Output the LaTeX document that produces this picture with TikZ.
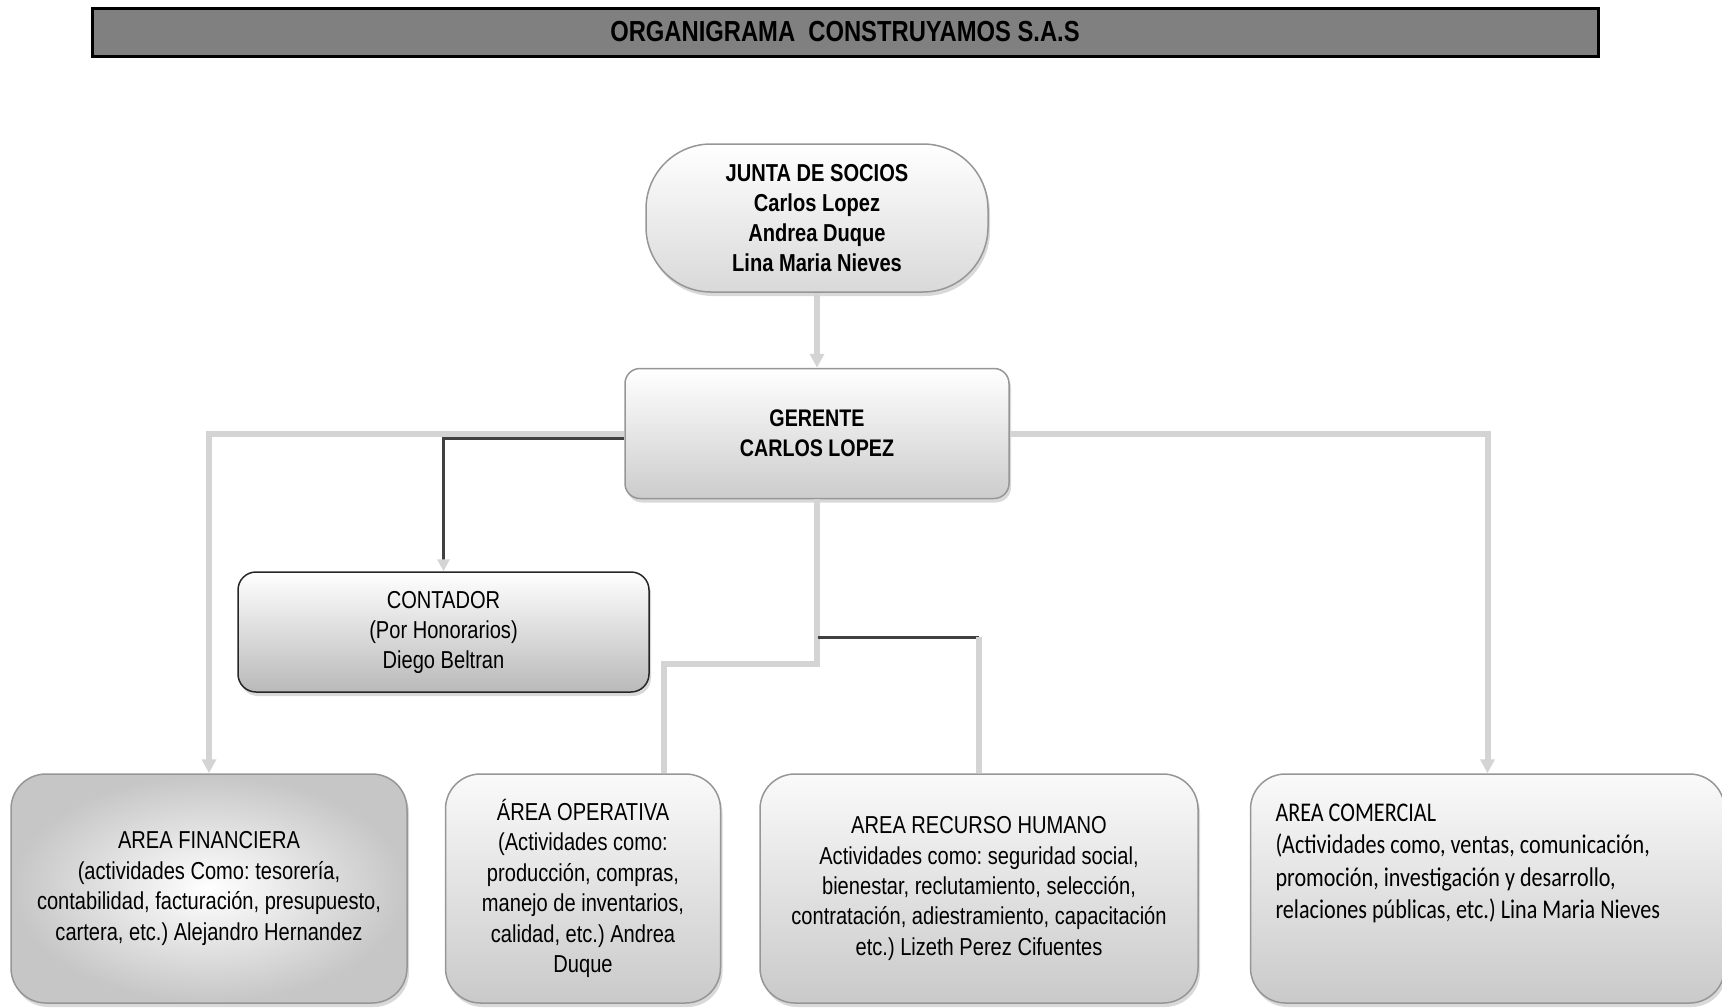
\documentclass[tikz,border=0pt]{standalone}
\usepackage{fontspec}
\setmainfont{Liberation Sans}[FakeStretch=0.82]
\newfontfamily\comfont{Carlito}[FakeStretch=0.82]
\usepackage{xcolor}
\usepackage{tikz}
\usetikzlibrary{arrows.meta,positioning,shadows}
\definecolor{link-gray}{RGB}{212,212,212}
\definecolor{box-edge}{RGB}{150,150,150}
\definecolor{title-gray}{RGB}{128,128,128}
\frenchspacing

\begin{document}
\begin{tikzpicture}[x=1pt, y=-1pt,
    banner/.style = {shape=rectangle, draw=black, line width=3pt,
        fill=title-gray, minimum width=1506pt, minimum height=48pt,
        font=\bfseries\fontsize{29}{30}\selectfont},
    board/.style = {shape=rectangle, rounded corners=65pt, draw=box-edge,
        line width=1.5pt, top color=white, bottom color=gray!30, align=center,
        minimum width=342pt, minimum height=148pt,
        font=\bfseries\fontsize{24.5}{30}\selectfont,
        drop shadow={opacity=0.3, shadow xshift=2pt, shadow yshift=-4pt}},
    head/.style = {shape=rectangle, rounded corners=15pt, draw=box-edge,
        line width=1.5pt, top color=white, bottom color=gray!40, align=center,
        minimum width=384pt, minimum height=130pt,
        font=\bfseries\fontsize{24}{30}\selectfont,
        drop shadow={opacity=0.3, shadow xshift=2pt, shadow yshift=-4pt}},
    staff/.style = {shape=rectangle, rounded corners=18pt, draw=black!85,
        line width=1.5pt, top color=white, bottom color=gray!55, align=center,
        minimum width=411pt, minimum height=120pt,
        font=\fontsize{24.5}{30}\selectfont,
        drop shadow={opacity=0.3, shadow xshift=2pt, shadow yshift=-4pt}},
    area/.style = {shape=rectangle, rounded corners=35pt, draw=box-edge,
        line width=1.5pt, top color=white!96!gray, bottom color=gray!42,
        align=center, minimum height=229pt, inner sep=0pt,
        font=\fontsize{24.5}{30.4}\selectfont,
        drop shadow={opacity=0.3, shadow xshift=2pt, shadow yshift=-4pt}},
    link/.style = {-{Triangle[width=14pt,length=14pt,color=link-gray]},
        draw=link-gray, line width=6pt},
    plain/.style = {draw=link-gray, line width=6pt},
    darklink/.style = {draw=black!75, line width=3pt}]

    \useasboundingbox (0,0) rectangle (1722,1007);

    \node [banner] (titulo) at (845,32)
        {\raisebox{-3pt}{ORGANIGRAMA\ \ CONSTRUYAMOS S.A.S}};

    \node [board] (junta) at (817,218)
        {JUNTA DE SOCIOS\\Carlos Lopez\\Andrea Duque\\Lina Maria Nieves};
    \node [head] (gerente) [below=75pt of junta] {GERENTE\\CARLOS LOPEZ};
    \node [staff] (contador) at (443.5,632)
        {CONTADOR\\(Por Honorarios)\\Diego Beltran};

    \node [area, minimum width=396pt, inner color=white, outer color=gray!45]
        (financiera) at (209,888.5)
        {AREA FINANCIERA\\(actividades Como: tesorería,\\contabilidad, facturación, presupuesto,\\cartera, etc.) Alejandro Hernandez};
    \node [area, minimum width=275pt] (operativa) [right=37pt of financiera]
        {ÁREA OPERATIVA\\(Actividades como:\\producción, compras,\\manejo de inventarios,\\calidad, etc.) Andrea\\Duque};
    \node [area, minimum width=438pt] (recursos) [right=38pt of operativa]
        {AREA RECURSO HUMANO\\Actividades como: seguridad social,\\bienestar, reclutamiento, selección,\\contratación, adiestramiento, capacitación\\etc.) Lizeth Perez Cifuentes};
    \node [area, minimum width=474pt, inner xsep=25pt, inner ysep=29.6pt,
        align=left] (comercial) [right=51pt of recursos]
        {\parbox[c][169.8pt][t]{424pt}{\comfont\fontsize{27}{32.6}\selectfont
        AREA COMERCIAL\\(Actividades como, ventas, comunicación,\\promoción, investigación y desarrollo,\\relaciones públicas, etc.) Lina Maria Nieves}};

    % lineas de mando
    \coordinate (cruce) at (818,637);
    \coordinate (giro) at (664,664);
    \draw [link] (junta) -- (gerente);
    \draw [link] (gerente.west) -| (financiera.north);
    \draw [darklink, -{Triangle[width=12pt,length=12pt,color=link-gray]}]
        ([yshift=-5pt]gerente.west) -| (contador.north);
    \draw [link] (gerente.east) -| (comercial.north);
    \draw [plain] (gerente.south) |- (giro) -- (giro |- operativa.north);
    \draw [darklink] (cruce) -- (cruce -| recursos.north);
    \draw [plain] (cruce -| recursos.north) -- (recursos.north);
\end{tikzpicture}
\end{document}
